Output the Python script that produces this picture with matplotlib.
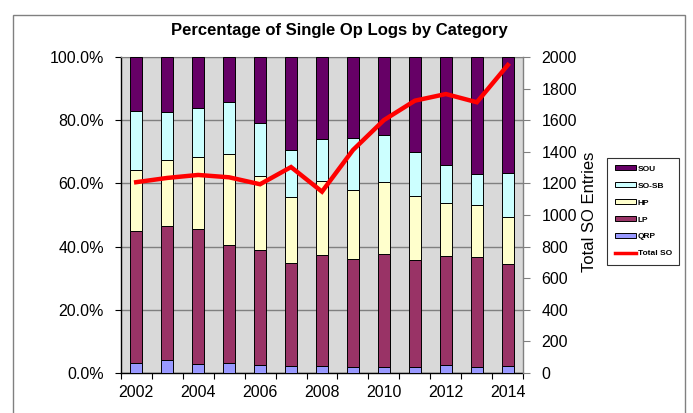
import matplotlib
matplotlib.use("Agg")
import matplotlib.pyplot as plt
from matplotlib.patches import Rectangle, Patch
from matplotlib.lines import Line2D
from matplotlib.ticker import FuncFormatter
import numpy as np

plt.rcParams['font.family'] = ['Liberation Sans', 'DejaVu Sans']

years = [2002, 2003, 2004, 2005, 2006, 2007, 2008, 2009, 2010, 2011, 2012, 2013, 2014]
qrp  = [3.2, 4.1, 2.8, 3.1, 2.4, 2.0, 2.2, 1.7, 1.7, 1.7, 2.4, 1.7, 2.2]
lp   = [41.8, 42.4, 42.7, 37.4, 36.5, 32.8, 35.0, 34.4, 35.9, 33.9, 34.6, 35.1, 32.2]
hp   = [19.2, 20.9, 22.8, 28.7, 23.4, 20.8, 23.5, 21.8, 23.0, 20.3, 16.9, 16.4, 15.1]
sosb = [18.9, 15.3, 15.7, 16.7, 16.8, 15.0, 13.4, 16.6, 14.7, 14.2, 12.0, 9.9, 13.8]
sou  = [16.9, 17.3, 16.0, 14.1, 20.9, 29.4, 25.9, 25.5, 24.7, 29.9, 34.1, 36.9, 36.7]
total_so = [1208, 1235, 1254, 1239, 1195, 1304, 1148, 1412, 1602, 1725, 1767, 1715, 1951]

series_names = ['QRP', 'LP', 'HP', 'SO-SB', 'SOU']
series_vals = [qrp, lp, hp, sosb, sou]
series_colors = ['#9999FF', '#993366', '#FFFFCC', '#CCFFFF', '#660066']

W, H = 693, 413
fig = plt.figure(figsize=(W / 100, H / 100), dpi=100)

def fx(px):
    return px / W

def fy(py):
    return 1 - py / H

left, right, top, bottom = 120.7, 523.3, 57.3, 372.7
ax = fig.add_axes([fx(left), fy(bottom), fx(right - left), (bottom - top) / H])
ax.set_facecolor('#D9D9D9')

x = np.arange(len(years))
base = np.zeros(len(years))
for name, vals, col in zip(series_names, series_vals, series_colors):
    v = np.array(vals)
    ax.bar(x, v, width=0.39, bottom=base, color=col, edgecolor='#000000',
           linewidth=0.7, zorder=3)
    base = base + v

ax.set_xlim(-0.5, len(years) - 0.5)
ax.set_ylim(0, 100)
ax.set_yticks(np.arange(0, 101, 20))
ax.yaxis.set_major_formatter(FuncFormatter(lambda v, p: f"{v:.1f}%"))
ax.grid(axis='y', color='#808080', linewidth=1.0, zorder=0)
ax.set_axisbelow(True)

ax.set_xticks(np.arange(-0.5, len(years), 1.0))
ax.set_xticklabels([])
ax.set_xticks(x[::2], minor=True)
ax.set_xticklabels([str(y) for y in years[::2]], minor=True)
ax.tick_params(axis='x', which='major', length=4, direction='out', color='#000000')
ax.tick_params(axis='x', which='minor', length=0, pad=9, labelsize=11.5)
ax.tick_params(axis='y', length=4, direction='out', pad=8, labelsize=11.5)

for s in ['left', 'bottom']:
    ax.spines[s].set_color('#000000')
    ax.spines[s].set_linewidth(1.0)
ax.spines['top'].set_color('#808080')
ax.spines['right'].set_visible(False)

ax2 = ax.twinx()
ax2.plot(x, total_so, color='#FF0000', linewidth=3.2, solid_joinstyle='miter', zorder=5)
ax2.set_ylim(0, 2000)
ax2.set_yticks(np.arange(0, 2001, 200))
ax2.tick_params(axis='y', length=5, direction='out', color='#808080', pad=8, labelsize=11.5)
ax2.spines['right'].set_color('#808080')
ax2.spines['right'].set_linewidth(1.0)
for s in ['left', 'top', 'bottom']:
    ax2.spines[s].set_visible(False)

fig.text(fx(339), fy(30), 'Percentage of Single Op Logs by Category',
         ha='center', va='center', fontsize=12, fontweight='bold')
fig.text(fx(589), fy(212), 'Total SO Entries', rotation=90,
         ha='center', va='center', fontsize=12)

handles = [Patch(facecolor=c, edgecolor='#000000', linewidth=0.7)
           for c in series_colors[::-1]]
handles.append(Line2D([0], [0], color='#FF0000', linewidth=2.5))
labels = series_names[::-1] + ['Total SO']
leg = fig.legend(handles, labels, loc='upper left',
                 bbox_to_anchor=(fx(607), fy(158)), bbox_transform=fig.transFigure,
                 prop={'size': 6, 'weight': 'bold'}, frameon=True, fancybox=False,
                 edgecolor='#000000', handlelength=2.6, handleheight=0.5,
                 handletextpad=0.2, labelspacing=1.15, borderpad=0.9,
                 borderaxespad=0)
leg.get_frame().set_linewidth(0.8)

fig.patches.append(Rectangle((fx(12.7), -0.05), fx(685 - 12.7), fy(15) + 0.05,
                             transform=fig.transFigure, fill=False,
                             edgecolor='#808080', linewidth=1.0))

fig.savefig('out.png', dpi=100)
